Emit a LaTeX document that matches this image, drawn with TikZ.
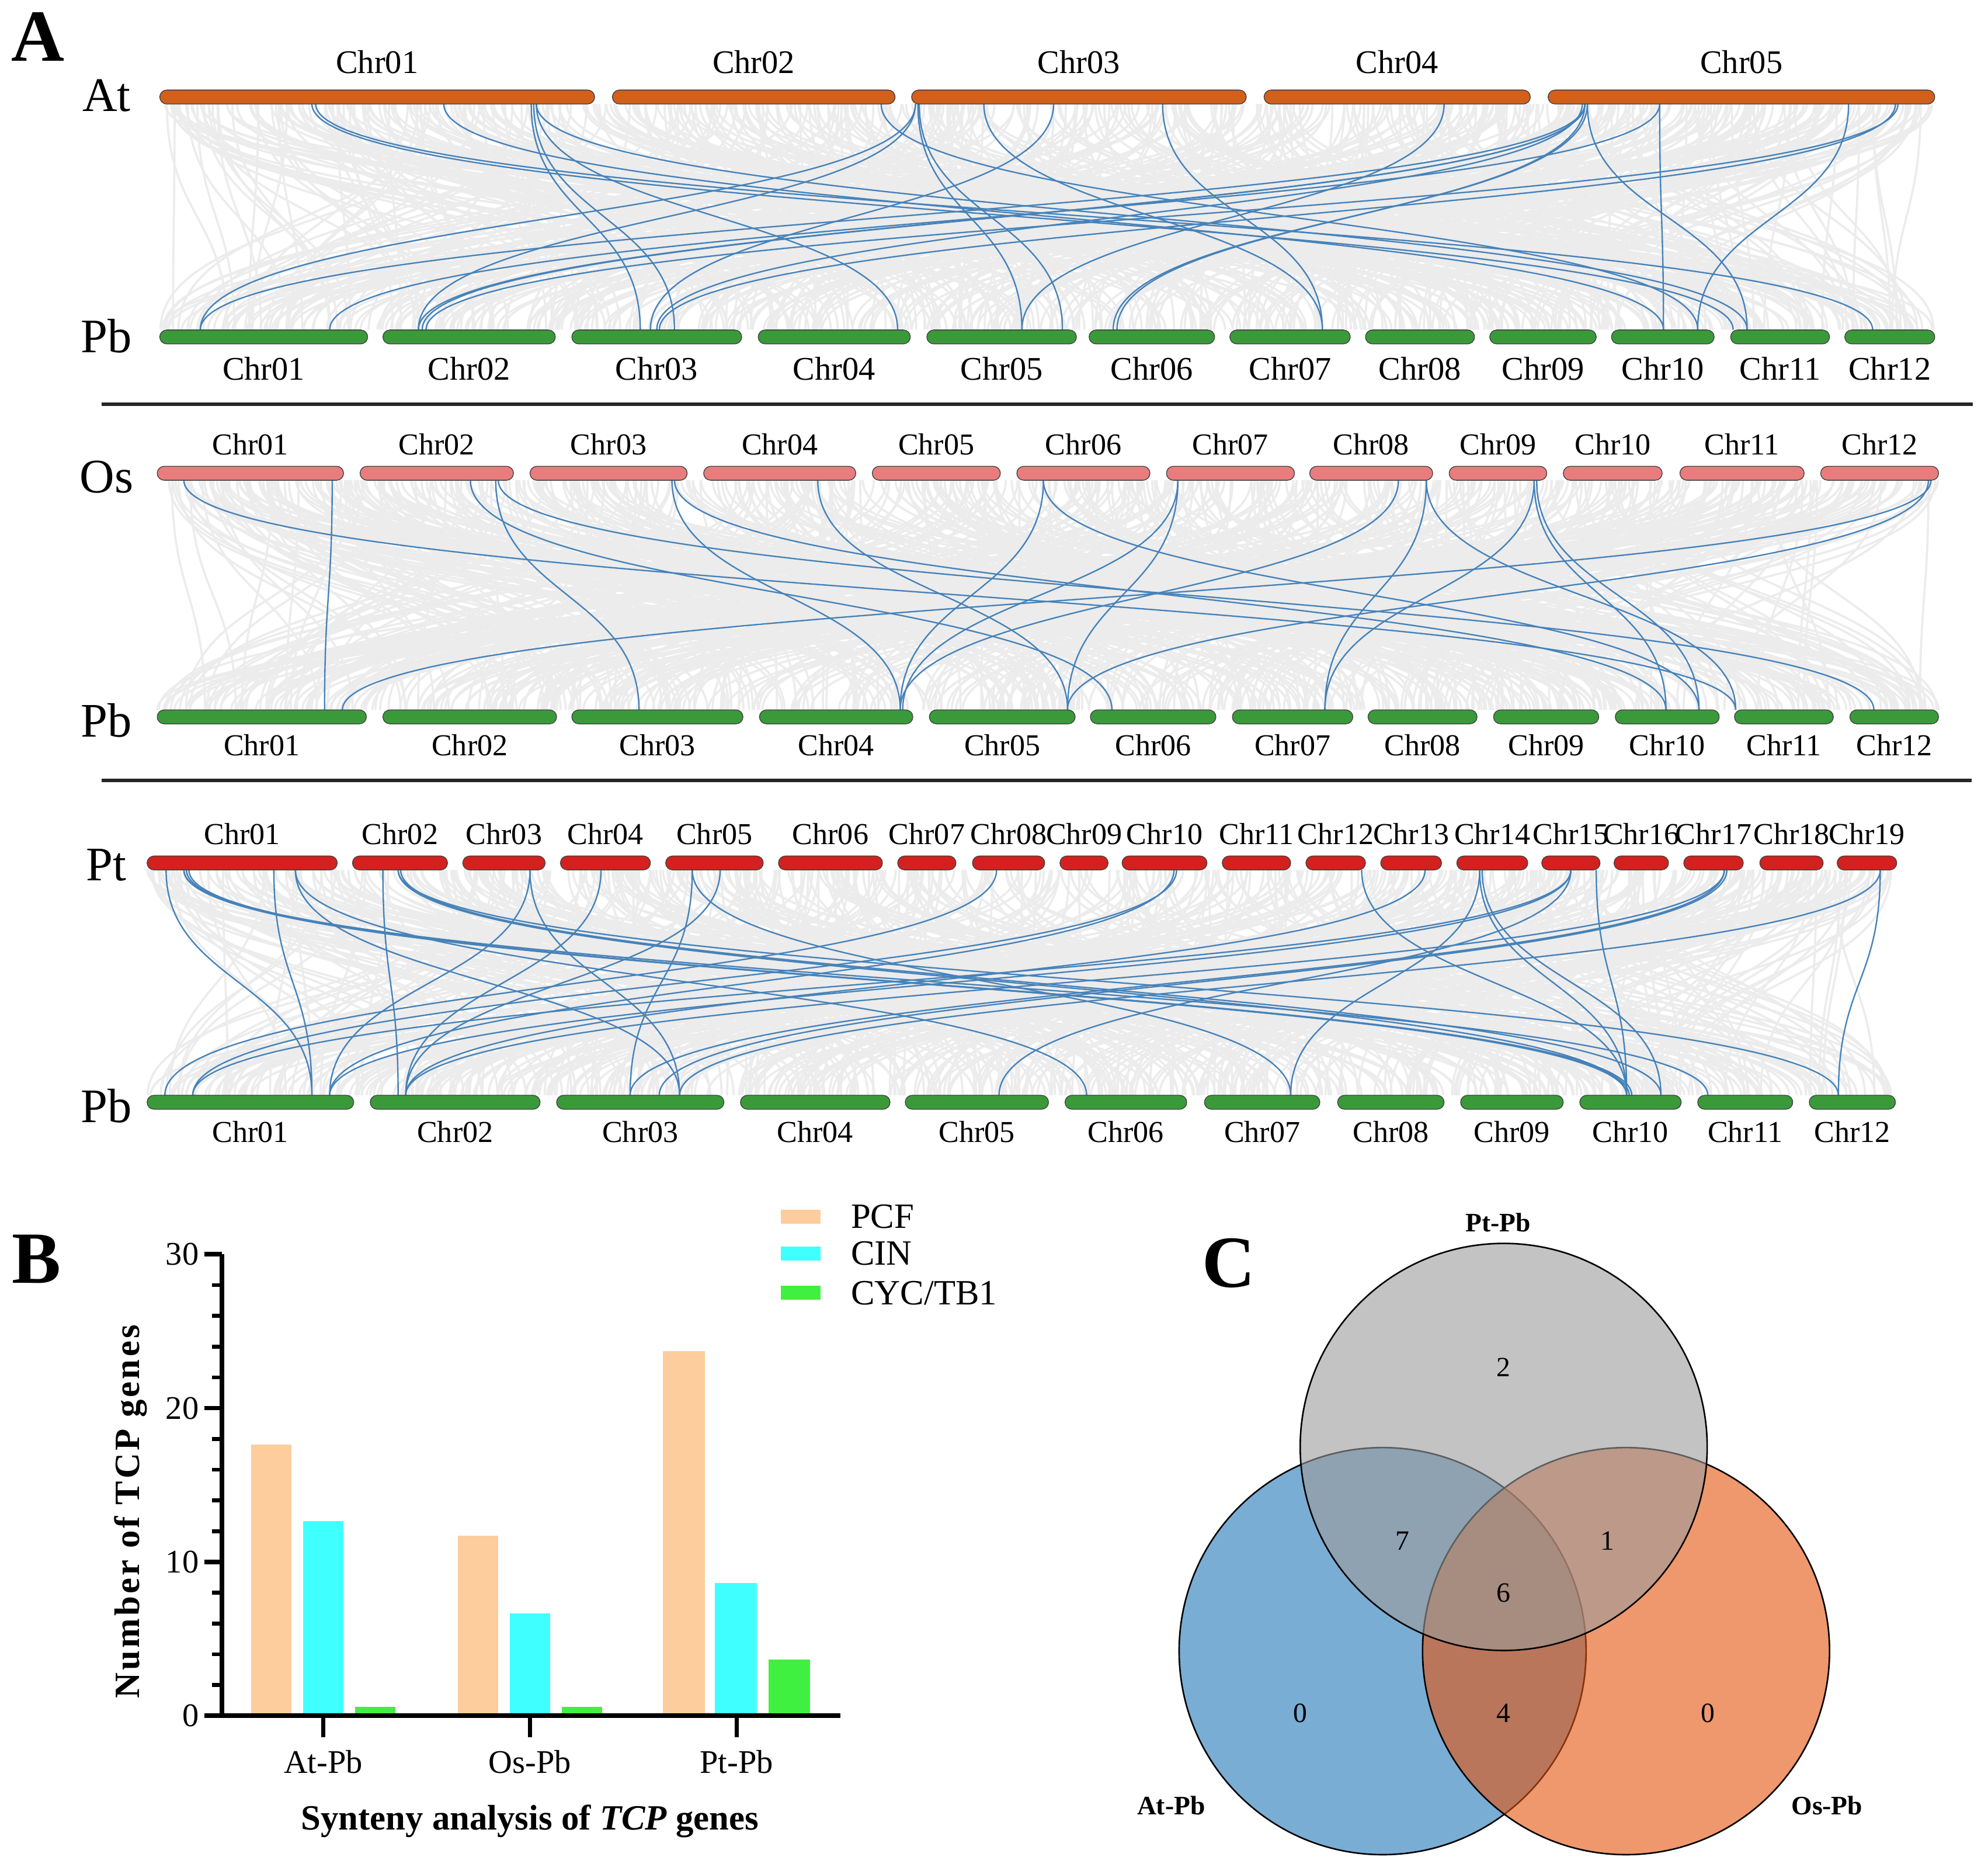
\documentclass[tikz,border=0pt]{standalone}
\usepackage{fontspec}
\setmainfont{Liberation Serif}
\usetikzlibrary{calc,positioning}

\definecolor{atorange}{RGB}{210,95,26}
\definecolor{pbgreen}{RGB}{58,154,58}
\definecolor{ospink}{RGB}{233,124,124}
\definecolor{ptred}{RGB}{212,33,31}
\definecolor{linkblue}{RGB}{70,130,185}
\definecolor{linkgray}{RGB}{236,236,236}
\definecolor{pcfcol}{RGB}{253,205,157}
\definecolor{cincol}{RGB}{64,255,255}
\definecolor{cyccol}{RGB}{64,240,64}
\definecolor{vennblue}{RGB}{33,118,183}
\definecolor{vennorange}{RGB}{228,83,12}
\definecolor{venngray}{RGB}{155,155,155}

\tikzset{
  chrbar/.style={draw=black!75, line width=0.6pt, rounded corners=5.5pt, minimum height=11pt, inner sep=0pt},
  chrlabA/.style={font=\fontsize{26}{28}\selectfont, inner sep=0pt},
  chrlab/.style={font=\fontsize{24}{26}\selectfont, inner sep=0pt},
  species/.style={font=\fontsize{38}{40}\selectfont, inner sep=0pt},
  panel/.style={font=\bfseries\fontsize{58}{60}\selectfont, inner sep=0pt},
  bluelink/.style={draw=linkblue, line width=1.1pt},
  graylink/.style={draw=linkgray, line width=1.7pt},
  sepline/.style={draw=black!85, line width=2.5pt},
  axisline/.style={draw=black, line width=3.5pt},
  ticklab/.style={font=\fontsize{26}{28}\selectfont, inner sep=0pt},
  legendlab/.style={font=\fontsize{28}{30}\selectfont, inner sep=0pt, anchor=west},
  venncircle/.style={draw=black, line width=1.2pt, fill opacity=0.6},
  vennnum/.style={font=\fontsize{22}{24}\selectfont, inner sep=0pt},
  vennlab/.style={font=\bfseries\fontsize{21}{23}\selectfont, inner sep=0pt}
}

% chromosome bar: fill, x from, x to, y centre, name, label placement, label
\def\chrom[#1](#2:#3:#4)#5[#6]#7{\node[chrbar, fill=#1, minimum width={#3-#2}] (#5) at ({(#2+#3)/2},#4) {};
  \node[#6 of #5] (#5-lab) {#7};}
% collinear gene pair between two rows
\def\synlink(#1:#2)(#3:#4){\draw[bluelink] (#1,#2) .. controls (#1,{(#2+#4)/2}) and (#3,{(#2+#4)/2}) .. (#3,#4);}
% background collinear blocks
\def\graylinks(#1:#2)(#3:#4)#5{\foreach \k in {1,...,#5}{%
  \pgfmathsetmacro{\xa}{#1+(#2-#1)*rnd}\pgfmathsetmacro{\xb}{#1+(#2-#1)*rnd}%
  \draw[graylink] (\xa,#3) .. controls (\xa,{(#3+#4)/2}) and (\xb,{(#3+#4)/2}) .. (\xb,#4);}}
% bar of the chart: fill, x from, x to, value
\def\tcpbar[#1](#2:#3)#4{\fill[#1] (#2,1353) rectangle (#3,{1353-12.13*#4});}

\begin{document}
\begin{tikzpicture}[x=1pt, y=-1pt]
		%%%%% START %%%%%
		\useasboundingbox (0,0) rectangle (1568,1475);
		\pgfmathsetseed{4711}
		
		%%%%% A: At - Pb %%%%%
		\graylinks(126:1526)(82:260){650}
		\synlink(246:82)(1367:260)
		\synlink(249:82)(1477:260)
		\synlink(350:82)(1312:260)
		\synlink(419:82)(505:260)
		\synlink(421:82)(532:260)
		\synlink(423:82)(708:260)
		\synlink(423:82)(1378:260)
		\synlink(695:82)(1339:260)
		\synlink(722:82)(158:260)
		\synlink(722:82)(330:260)
		\synlink(724:82)(806:260)
		\synlink(725:82)(838:260)
		\synlink(776:82)(1043:260)
		\synlink(831:82)(513:260)
		\synlink(917:82)(1043:260)
		\synlink(1139:82)(806:260)
		\synlink(1250:82)(158:260)
		\synlink(1250:82)(330:260)
		\synlink(1250:82)(333:260)
		\synlink(1248:82)(518:260)
		\synlink(1252:82)(878:260)
		\synlink(1250:82)(881:260)
		\synlink(1252:82)(1378:260)
		\synlink(1309:82)(260:260)
		\synlink(1309:82)(1312:260)
		\synlink(1458:82)(1339:260)
		\synlink(1497:82)(336:260)
		\synlink(1495:82)(520:260)
		
		\chrom[atorange](126:469:76.5){at1}[chrlabA, above=12.5pt]{Chr01}
		\chrom[atorange](483:706:76.5){at2}[chrlabA, above=12.5pt]{Chr02}
		\chrom[atorange](719:983:76.5){at3}[chrlabA, above=12.5pt]{Chr03}
		\chrom[atorange](997:1207:76.5){at4}[chrlabA, above=12.5pt]{Chr04}
		\chrom[atorange](1221:1526:76.5){at5}[chrlabA, above=12.5pt]{Chr05}
		
		\chrom[pbgreen](126:290:265.7){pa1}[chrlabA, below=10pt]{Chr01}
		\chrom[pbgreen](302:438:265.7){pa2}[chrlabA, below=10pt]{Chr02}
		\chrom[pbgreen](451:585:265.7){pa3}[chrlabA, below=10pt]{Chr03}
		\chrom[pbgreen](598:718:265.7){pa4}[chrlabA, below=10pt]{Chr04}
		\chrom[pbgreen](731:849:265.7){pa5}[chrlabA, below=10pt]{Chr05}
		\chrom[pbgreen](859:958:265.7){pa6}[chrlabA, below=10pt]{Chr06}
		\chrom[pbgreen](970:1065:265.7){pa7}[chrlabA, below=10pt]{Chr07}
		\chrom[pbgreen](1077:1163:265.7){pa8}[chrlabA, below=10pt]{Chr08}
		\chrom[pbgreen](1175:1259:265.7){pa9}[chrlabA, below=10pt]{Chr09}
		\chrom[pbgreen](1271:1352:265.7){pa10}[chrlabA, below=10pt]{Chr10}
		\chrom[pbgreen](1365:1443:265.7){pa11}[chrlabA, below=10pt]{Chr11}
		\chrom[pbgreen](1455:1526:265.7){pa12}[chrlabA, below=10pt]{Chr12}
		
		\node[species] (at) at (84,75.5) {At};
		\node[species] (pba) at (84,265) {Pb};
		\node[panel] (labA) at (30,29) {A};
		\draw[sepline] (80,318.7) -- (1556,318.7);
		
		%%%%% A: Os - Pb %%%%%
		\graylinks(124:1529)(378.7:559.8){650}
		\synlink(145:378.7)(1369:559.8)
		\synlink(262:378.7)(256:559.8)
		\synlink(371:378.7)(877:559.8)
		\synlink(391:378.7)(504:559.8)
		\synlink(393:378.7)(1478:559.8)
		\synlink(530:378.7)(710:559.8)
		\synlink(532:378.7)(1314:559.8)
		\synlink(645:378.7)(842:559.8)
		\synlink(823:378.7)(710:559.8)
		\synlink(823:378.7)(1340:559.8)
		\synlink(929:378.7)(712:559.8)
		\synlink(929:378.7)(842:559.8)
		\synlink(1103:378.7)(710:559.8)
		\synlink(1125:378.7)(1045:559.8)
		\synlink(1125:378.7)(1369:559.8)
		\synlink(1210:378.7)(1045:559.8)
		\synlink(1210:378.7)(1314:559.8)
		\synlink(1212:378.7)(1340:559.8)
		\synlink(1523:378.7)(270:559.8)
		\synlink(1521:378.7)(842:559.8)
		
		\chrom[ospink](124:271:373.2){os1}[chrlab, above=8.5pt]{Chr01}
		\chrom[ospink](284:405:373.2){os2}[chrlab, above=8.5pt]{Chr02}
		\chrom[ospink](418:542:373.2){os3}[chrlab, above=8.5pt]{Chr03}
		\chrom[ospink](555:675:373.2){os4}[chrlab, above=8.5pt]{Chr04}
		\chrom[ospink](688:789:373.2){os5}[chrlab, above=8.5pt]{Chr05}
		\chrom[ospink](802:907:373.2){os6}[chrlab, above=8.5pt]{Chr06}
		\chrom[ospink](920:1021:373.2){os7}[chrlab, above=8.5pt]{Chr07}
		\chrom[ospink](1033:1130:373.2){os8}[chrlab, above=8.5pt]{Chr08}
		\chrom[ospink](1143:1220:373.2){os9}[chrlab, above=8.5pt]{Chr09}
		\chrom[ospink](1233:1311:373.2){os10}[chrlab, above=8.5pt]{Chr10}
		\chrom[ospink](1325:1423:373.2){os11}[chrlab, above=8.5pt]{Chr11}
		\chrom[ospink](1436:1529:373.2){os12}[chrlab, above=8.5pt]{Chr12}
		
		\chrom[pbgreen](124:289:565.3){pb1}[chrlab, below=8pt]{Chr01}
		\chrom[pbgreen](302:439:565.3){pb2}[chrlab, below=8pt]{Chr02}
		\chrom[pbgreen](451:586:565.3){pb3}[chrlab, below=8pt]{Chr03}
		\chrom[pbgreen](599:720:565.3){pb4}[chrlab, below=8pt]{Chr04}
		\chrom[pbgreen](733:848:565.3){pb5}[chrlab, below=8pt]{Chr05}
		\chrom[pbgreen](860:959:565.3){pb6}[chrlab, below=8pt]{Chr06}
		\chrom[pbgreen](972:1067:565.3){pb7}[chrlab, below=8pt]{Chr07}
		\chrom[pbgreen](1079:1165:565.3){pb8}[chrlab, below=8pt]{Chr08}
		\chrom[pbgreen](1178:1261:565.3){pb9}[chrlab, below=8pt]{Chr09}
		\chrom[pbgreen](1274:1356:565.3){pb10}[chrlab, below=8pt]{Chr10}
		\chrom[pbgreen](1368:1446:565.3){pb11}[chrlab, below=8pt]{Chr11}
		\chrom[pbgreen](1459:1529:565.3){pb12}[chrlab, below=8pt]{Chr12}
		
		\node[species] (os) at (84,376) {Os};
		\node[species] (pbb) at (84,568) {Pb};
		\draw[sepline] (80,615.4) -- (1555,615.4);
		
		%%%%% A: Pt - Pb %%%%%
		\graylinks(116:1496)(686:863.7){650}
		\synlink(131:686)(246:863.7)
		\synlink(145:686)(1283:863.7)
		\synlink(147:686)(1285:863.7)
		\synlink(149:686)(1287:863.7)
		\synlink(145:686)(1347:863.7)
		\synlink(216:686)(246:863.7)
		\synlink(233:686)(536:863.7)
		\synlink(233:686)(857:863.7)
		\synlink(302:686)(314:863.7)
		\synlink(314:686)(1283:863.7)
		\synlink(316:686)(1310:863.7)
		\synlink(314:686)(1450:863.7)
		\synlink(418:686)(260:863.7)
		\synlink(418:686)(536:863.7)
		\synlink(474:686)(320:863.7)
		\synlink(546:686)(497:863.7)
		\synlink(546:686)(1018:863.7)
		\synlink(568:686)(320:863.7)
		\synlink(786:686)(130:863.7)
		\synlink(928:686)(152:863.7)
		\synlink(926:686)(260:863.7)
		\synlink(1074:686)(1283:863.7)
		\synlink(1124:686)(320:863.7)
		\synlink(1167:686)(1018:863.7)
		\synlink(1167:686)(1283:863.7)
		\synlink(1169:686)(1310:863.7)
		\synlink(1239:686)(152:863.7)
		\synlink(1239:686)(260:863.7)
		\synlink(1239:686)(788:863.7)
		\synlink(1259:686)(1283:863.7)
		\synlink(1360:686)(320:863.7)
		\synlink(1360:686)(497:863.7)
		\synlink(1362:686)(520:863.7)
		\synlink(1483:686)(1450:863.7)
		\synlink(1483:686)(536:863.7)
		
		\chrom[ptred](116:266:680.5){pt1}[chrlab, above=8.6pt]{Chr01}
		\chrom[ptred](278:353:680.5){pt2}[chrlab, above=8.6pt]{Chr02}
		\chrom[ptred](365:430:680.5){pt3}[chrlab, above=8.6pt]{Chr03}
		\chrom[ptred](442:513:680.5){pt4}[chrlab, above=8.6pt]{Chr04}
		\chrom[ptred](525:602:680.5){pt5}[chrlab, above=8.6pt]{Chr05}
		\chrom[ptred](614:696:680.5){pt6}[chrlab, above=8.6pt]{Chr06}
		\chrom[ptred](708:754:680.5){pt7}[chrlab, above=8.6pt]{Chr07}
		\chrom[ptred](767:824:680.5){pt8}[chrlab, above=8.6pt]{Chr08}
		\chrom[ptred](836:874:680.5){pt9}[chrlab, above=8.6pt]{Chr09}
		\chrom[ptred](885:952:680.5){pt10}[chrlab, above=8.6pt]{Chr10}
		\chrom[ptred](964:1018:680.5){pt11}[chrlab, above=8.6pt]{Chr11}
		\chrom[ptred](1030:1077:680.5){pt12}[chrlab, above=8.6pt]{Chr12}
		\chrom[ptred](1089:1137:680.5){pt13}[chrlab, above=8.6pt]{Chr13}
		\chrom[ptred](1149:1205:680.5){pt14}[chrlab, above=8.6pt]{Chr14}
		\chrom[ptred](1216:1262:680.5){pt15}[chrlab, above=8.6pt]{Chr15}
		\chrom[ptred](1273:1316:680.5){pt16}[chrlab, above=8.6pt]{Chr16}
		\chrom[ptred](1328:1375:680.5){pt17}[chrlab, above=8.6pt]{Chr17}
		\chrom[ptred](1388:1438:680.5){pt18}[chrlab, above=8.6pt]{Chr18}
		\chrom[ptred](1449:1496:680.5){pt19}[chrlab, above=8.6pt]{Chr19}
		
		\chrom[pbgreen](116:279:869.2){pc1}[chrlab, below=9pt]{Chr01}
		\chrom[pbgreen](292:426:869.2){pc2}[chrlab, below=9pt]{Chr02}
		\chrom[pbgreen](439:571:869.2){pc3}[chrlab, below=9pt]{Chr03}
		\chrom[pbgreen](584:702:869.2){pc4}[chrlab, below=9pt]{Chr04}
		\chrom[pbgreen](714:827:869.2){pc5}[chrlab, below=9pt]{Chr05}
		\chrom[pbgreen](840:936:869.2){pc6}[chrlab, below=9pt]{Chr06}
		\chrom[pbgreen](950:1041:869.2){pc7}[chrlab, below=9pt]{Chr07}
		\chrom[pbgreen](1055:1139:869.2){pc8}[chrlab, below=9pt]{Chr08}
		\chrom[pbgreen](1152:1233:869.2){pc9}[chrlab, below=9pt]{Chr09}
		\chrom[pbgreen](1246:1326:869.2){pc10}[chrlab, below=9pt]{Chr10}
		\chrom[pbgreen](1339:1414:869.2){pc11}[chrlab, below=9pt]{Chr11}
		\chrom[pbgreen](1427:1495:869.2){pc12}[chrlab, below=9pt]{Chr12}
		
		\node[species] (pt) at (84,682) {Pt};
		\node[species] (pbc) at (84,872) {Pb};
		
		%%%%% B %%%%%
		\node[panel] (labB) at (29,993) {B};
		
		\tcpbar[pcfcol](198:230){17.65}
		\tcpbar[cincol](239:271){12.67}
		\tcpbar[cyccol](280:312){0.59}
		\tcpbar[pcfcol](361:393){11.70}
		\tcpbar[cincol](402:434){6.66}
		\tcpbar[cyccol](443:475){0.59}
		\tcpbar[pcfcol](523:556){23.69}
		\tcpbar[cincol](564:597){8.62}
		\tcpbar[cyccol](606:639){3.64}
		
		\foreach \v in {2,4,6,8,12,14,16,18,22,24,26,28}
			\draw[line width=3pt] (167,{1353-12.13*\v}) -- (175,{1353-12.13*\v});
		\foreach \v in {0,10,20,30}{
			\draw[line width=3.5pt] (161,{1353-12.13*\v}) -- (175,{1353-12.13*\v});
			\node[ticklab, anchor=east] (tick\v) at (157,{1353-12.13*\v}) {\v};
		}
		\draw[axisline] (175,989) -- (175,1353) -- (663,1353);
		\draw[axisline] (255,1353) -- (255,1370);
		\draw[axisline] (418,1353) -- (418,1370);
		\draw[axisline] (581,1353) -- (581,1370);
		\node[ticklab] (catAt) at (255,1389.5) {At-Pb};
		\node[ticklab] (catOs) at (418,1389.5) {Os-Pb};
		\node[ticklab] (catPt) at (581,1389.5) {Pt-Pb};
		
		\node[rotate=90, inner sep=0pt, font=\bfseries\fontsize{28}{30}\selectfont\addfontfeature{LetterSpace=7}] (ytitle) at (103,1192) {Number of TCP genes};
		\node[inner sep=0pt, font=\bfseries\fontsize{28}{30}\selectfont] (xtitle) at (418,1436) {Synteny analysis of \textit{TCP} genes};
		
		\fill[pcfcol] (616,954) rectangle (647,965);
		\fill[cincol] (616,983) rectangle (647,994);
		\fill[cyccol] (616,1014) rectangle (647,1025);
		\node[legendlab] (legPCF) at (671,959.5) {PCF};
		\node[legendlab] (legCIN) at (671,988.5) {CIN};
		\node[legendlab] (legCYC) at (671,1019.5) {CYC/TB1};
		
		%%%%% C %%%%%
		\node[panel] (labC) at (969,996) {C};
		
		\draw[venncircle, fill=vennblue] (1090.5,1302) circle (160.5pt);
		\draw[venncircle, fill=vennorange] (1282.5,1302) circle (160.5pt);
		\draw[venncircle, fill=venngray] (1186,1141) circle (160.5pt);
		
		\node[vennlab] (vPt) at (1181.6,964) {Pt-Pb};
		\node[vennlab] (vAt) at (923.7,1423.6) {At-Pb};
		\node[vennlab] (vOs) at (1441,1423.6) {Os-Pb};
		
		\node[vennnum] (n2) at (1186,1078) {2};
		\node[vennnum] (n7) at (1106,1215) {7};
		\node[vennnum] (n1) at (1268,1215) {1};
		\node[vennnum] (n6) at (1186,1256) {6};
		\node[vennnum] (n0a) at (1025.5,1351) {0};
		\node[vennnum] (n4) at (1186,1351) {4};
		\node[vennnum] (n0b) at (1347,1351) {0};
		
		%%%%% END %%%%%
\end{tikzpicture}
\end{document}
